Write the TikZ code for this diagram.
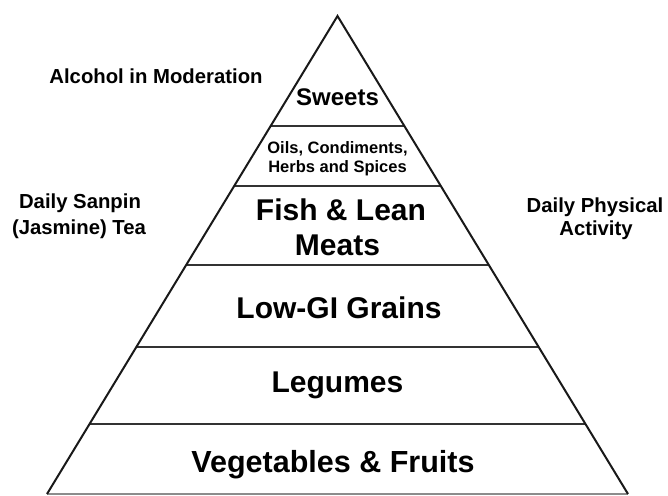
\documentclass[tikz,border=0pt]{standalone}
\usepackage{fontspec}
\setmainfont{Liberation Sans}
\usetikzlibrary{calc}
\begin{document}
\begin{tikzpicture}[x=1pt,y=-1pt,
  edge/.style={line width=2pt,draw=black!90,line join=miter},
  tier/.style={line width=2.3pt,draw=black!80},
  big/.style={font=\fontsize{30}{36}\selectfont\bfseries,anchor=base,inner sep=0pt},
  mid/.style={font=\fontsize{24}{28}\selectfont\bfseries,anchor=base,inner sep=0pt},
  small/.style={font=\fontsize{16.5}{19}\selectfont\bfseries,anchor=base,inner sep=0pt},
  side/.style={font=\fontsize{20.3}{24}\selectfont\bfseries,anchor=base,inner sep=0pt}]
\useasboundingbox (0,0) rectangle (668,495);
\coordinate (A) at (337.5,16);
\coordinate (BL) at (47,494);
\coordinate (BR) at (628,494);
% tier lines
\foreach \yy/\nm in {126/a,186/b,265/c,347/d,424/e}{
  \coordinate (L\nm) at ($(A)!{(\yy-16)/478}!(BL)$);
  \coordinate (R\nm) at ($(A)!{(\yy-16)/478}!(BR)$);
  \draw[tier] (L\nm) -- (R\nm);
}
\draw[tier,draw=black!45,line width=1.5pt] (BL) -- (BR);
\draw[edge] (BL) -- (A) -- (BR);
% tier labels
\node[mid] (sweets) at (337.5,105) {Sweets};
\node[small] (oils1) at (337.5,153) {Oils, Condiments,};
\node[small] (oils2) at (337.5,172) {Herbs and Spices};
\node[big] (fish1) at (341,220) {Fish \& Lean};
\node[big] (fish2) at (337.5,255) {Meats};
\node[big] (grains) at (339,318) {Low-GI Grains};
\node[big] (legumes) at (337.5,392) {Legumes};
\node[big,font=\fontsize{30.5}{36}\selectfont\bfseries] (veg) at (333,472) {Vegetables \& Fruits};
% side labels
\node[side] (alcohol) at (156,83) {Alcohol in Moderation};
\node[side] (tea1) at (80,208) {Daily Sanpin};
\node[side] (tea2) at (79,234) {(Jasmine) Tea};
\node[side] (act1) at (595,212) {Daily Physical};
\node[side] (act2) at (596,235) {Activity};
\end{tikzpicture}
\end{document}
